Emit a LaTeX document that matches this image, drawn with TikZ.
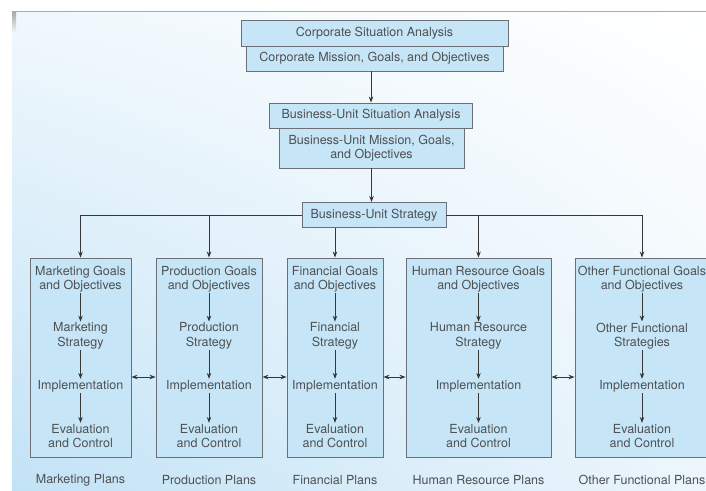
\documentclass[tikz,border=0pt]{standalone}
\usepackage{fontspec}
\setmainfont{TeX Gyre Heros}
\usetikzlibrary{arrows.meta,shadings}
\definecolor{spfill}{RGB}{198,230,248}
\definecolor{spedge}{RGB}{108,112,118}
\definecolor{spink}{RGB}{78,80,82}
\definecolor{sptip}{RGB}{55,55,55}
\definecolor{bgul}{RGB}{240,248,253}
\definecolor{bgll}{RGB}{194,226,246}
\definecolor{bglr}{RGB}{236,246,252}
\tikzset{
  spbox/.style={draw=spedge, fill=spfill, line width=0.9pt, text=spink, font=\fontsize{12.5}{14.5}\selectfont, align=center, inner sep=0pt},
  spcol/.style={spbox, minimum height=199pt},
  spstep/.style={text=spink, font=\fontsize{12.5}{14.5}\selectfont, align=center, inner sep=1pt},
  sparrow/.style={draw=sptip, line width=0.8pt, -{Stealth[length=6pt,width=4.5pt]}},
  spboth/.style={draw=sptip, line width=0.8pt, {Stealth[length=6pt,width=4.5pt]}-{Stealth[length=6pt,width=4.5pt]}},
}
\begin{document}
\begin{tikzpicture}[x=1pt,y=-1pt]
\useasboundingbox (0,0) rectangle (706,490);
\shade[upper left=bgul, upper right=white, lower left=bgll, lower right=bglr] (12,11) rectangle (706,490);
\shade[top color=black!35, bottom color=bgul] (12,11) rectangle (16,33);
\draw[black!33, line width=0.9pt] (12,11) -- (706,11);

\node[spbox, minimum width=267pt, minimum height=26pt] (csa) at (374.5,33) {Corporate Situation Analysis};
\node[spbox, minimum width=257pt, minimum height=25pt] (cmg) at (374.5,58.5) {Corporate Mission, Goals, and Objectives};
\node[spbox, minimum width=203pt, minimum height=25pt] (bsa) at (371,115.5) {Business-Unit Situation Analysis};
\node[spbox, minimum width=185pt, minimum height=40pt] (bmg) at (371.5,148) {Business-Unit Mission, Goals,\\and Objectives};
\node[spbox, minimum width=144pt, minimum height=25pt] (bus) at (374,215) {Business-Unit Strategy};

\draw[sparrow] (bsa.north |- cmg.south) -- (bsa.north);
\draw[sparrow] (bmg.south) -- (bmg.south |- bus.north);

\node[spcol, minimum width=101pt] (mk) at (80.5,357.5) {};
\node[spcol, minimum width=106pt] (pr) at (209,357.5) {};
\node[spcol, minimum width=96pt] (fi) at (335,357.5) {};
\node[spcol, minimum width=145pt] (hr) at (478.5,357.5) {};
\node[spcol, minimum width=134pt] (ot) at (642,357.5) {};

\draw[sparrow] (bus.west) -| (mk.north);
\draw[sparrow] (pr.north |- bus.west) -- (pr.north);
\draw[sparrow] (fi.north |- bus.south) -- (fi.north);
\draw[sparrow] (hr.north |- bus.east) -- (hr.north);
\draw[sparrow] (bus.east) -| (ot.north);

\node[spstep] (mkgo) at (80.5,279) {Marketing Goals\\and Objectives};
\node[spstep] (mkst) at (80.5,336) {Marketing\\Strategy};
\node[spstep] (mkim) at (80.5,386) {Implementation};
\node[spstep] (mkev) at (80.5,436) {Evaluation\\and Control};
\node[spstep] (prgo) at (209,279) {Production Goals\\and Objectives};
\node[spstep] (prst) at (209,336) {Production\\Strategy};
\node[spstep] (prim) at (209,386) {Implementation};
\node[spstep] (prev) at (209,436) {Evaluation\\and Control};
\node[spstep] (figo) at (335,279) {Financial Goals\\and Objectives};
\node[spstep] (fist) at (335,336) {Financial\\Strategy};
\node[spstep] (fiim) at (335,386) {Implementation};
\node[spstep] (fiev) at (335,436) {Evaluation\\and Control};
\node[spstep] (hrgo) at (478.5,279) {Human Resource Goals\\and Objectives};
\node[spstep] (hrst) at (478.5,336) {Human Resource\\Strategy};
\node[spstep] (hrim) at (478.5,386) {Implementation};
\node[spstep] (hrev) at (478.5,436) {Evaluation\\and Control};
\node[spstep] (otgo) at (642,279) {Other Functional Goals\\and Objectives};
\node[spstep] (otst) at (642,336) {Other Functional\\Strategies};
\node[spstep] (otim) at (642,386) {Implementation};
\node[spstep] (otev) at (642,436) {Evaluation\\and Control};

\draw[sparrow] (mkgo) -- (mkst);
\draw[sparrow] (mkst) -- (mkim);
\draw[sparrow] (mkim) -- (mkev);
\draw[sparrow] (prgo) -- (prst);
\draw[sparrow] (prst) -- (prim);
\draw[sparrow] (prim) -- (prev);
\draw[sparrow] (figo) -- (fist);
\draw[sparrow] (fist) -- (fiim);
\draw[sparrow] (fiim) -- (fiev);
\draw[sparrow] (hrgo) -- (hrst);
\draw[sparrow] (hrst) -- (hrim);
\draw[sparrow] (hrim) -- (hrev);
\draw[sparrow] (otgo) -- (otst);
\draw[sparrow] (otst) -- (otim);
\draw[sparrow] (otim) -- (otev);

\draw[spboth] ([yshift=-19.5pt]mk.east) -- ([yshift=-19.5pt]pr.west);
\draw[spboth] ([yshift=-19.5pt]pr.east) -- ([yshift=-19.5pt]fi.west);
\draw[spboth] ([yshift=-19.5pt]fi.east) -- ([yshift=-19.5pt]hr.west);
\draw[spboth] ([yshift=-19.5pt]hr.east) -- ([yshift=-19.5pt]ot.west);

\node[spstep] (mkpl) at (80.5,480) {Marketing Plans};
\node[spstep] (prpl) at (209,480) {Production Plans};
\node[spstep] (fipl) at (335,480) {Financial Plans};
\node[spstep] (hrpl) at (478.5,480) {Human Resource Plans};
\node[spstep] (otpl) at (642,480) {Other Functional Plans};
\end{tikzpicture}
\end{document}
